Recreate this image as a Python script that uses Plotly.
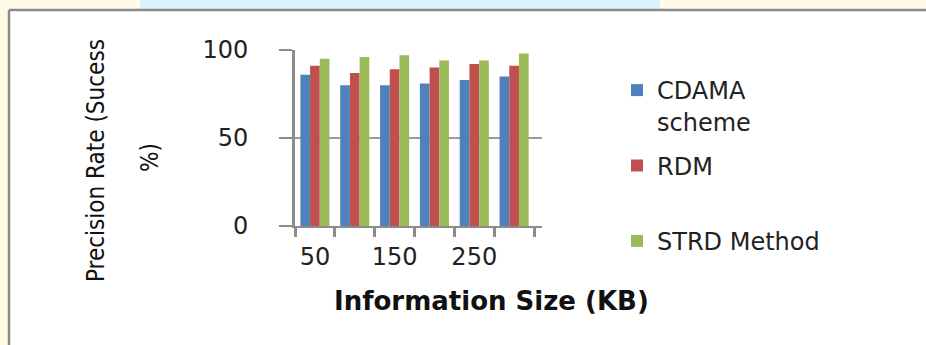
import plotly.graph_objects as go

# ---- data ----
categories = ["50", "100", "150", "200", "250", "300"]
tick_labels = ["50", "", "150", "", "250", ""]
cdama = [86, 80, 80, 81, 83, 85]
rdm = [91, 87, 89, 90, 92, 91]
strd = [95, 96, 97, 94, 94, 98]
series_names = ["CDAMA<br>scheme", "RDM<br>\u00a0", "STRD Method"]
colors = ["#4F81BD", "#C0504D", "#9BBB59"]

W, H = 926, 345
L, R, T, B = 295, 384, 50, 119
PW, PH = W - L - R, H - T - B


def px(x):
    return (x - L) / PW


def py(y):
    return (H - B - y) / PH


fig = go.Figure()
for name, vals, col in zip(series_names, [cdama, rdm, strd], colors):
    fig.add_trace(go.Bar(
        x=categories, y=vals, name=name, legendgroup=name,
        marker=dict(color=col, line=dict(width=0)),
    ))

grey = "#8C8C8C"
fig.update_layout(
    width=W, height=H,
    margin=dict(l=L, r=R, t=T, b=B, autoexpand=False),
    paper_bgcolor="white", plot_bgcolor="white",
    barmode="group", bargap=0.27, bargroupgap=0,
    font=dict(family="DejaVu Sans", color="#222222"),
    legend=dict(
        x=px(617), y=py(68), xanchor="left", yanchor="top",
        font=dict(family="DejaVu Sans", size=24, color="#222222"),
        valign="top", tracegroupgap=10, itemwidth=30, maxheight=320,
        bgcolor="rgba(0,0,0,0)",
    ),
    xaxis=dict(
        type="category", categoryorder="array", categoryarray=categories,
        tickmode="array", tickvals=categories, ticktext=tick_labels,
        tickson="boundaries", ticks="outside", ticklen=9, tickwidth=3,
        tickcolor=grey, showline=True, linecolor=grey, linewidth=2,
        showgrid=False, range=[-0.5, 5.7], ticklabelstandoff=8, tickangle=0,
        tickfont=dict(family="DejaVu Sans", size=24, color="#222222"),
    ),
    yaxis=dict(
        range=[0, 100], tickvals=[0, 50, 100], ticks="outside", ticklen=13,
        tickwidth=2, tickcolor=grey, showline=True, linecolor=grey,
        linewidth=3, showgrid=True, gridcolor="#9A9A9A", gridwidth=1.5,
        zeroline=False, ticklabelstandoff=26,
        tickfont=dict(family="DejaVu Sans", size=24, color="#222222"),
    ),
)

yfont = dict(family="Liberation Sans Narrow, DejaVu Sans Condensed, Liberation Sans", size=24, color="#111111")
ann = [
    dict(text="Precision Rate (Sucess", x=px(96), y=py(161), textangle=-90, font=yfont),
    dict(text="%)", x=px(150), y=py(158), textangle=-90, font=yfont),
    dict(text="<b>Information Size (KB)</b>", x=px(491), y=py(301),
         font=dict(family="DejaVu Sans", size=26, color="#111111")),
]
for a in ann:
    fig.add_annotation(xref="paper", yref="paper", showarrow=False,
                       xanchor="center", yanchor="middle", **a)

shapes = [
    # background strips of the original screenshot
    dict(type="rect", x0=px(0), x1=px(9), y0=py(0), y1=py(H), fillcolor="#FFFBE3", line=dict(width=0), layer="below"),
    dict(type="rect", x0=px(0), x1=px(W), y0=py(0), y1=py(9), fillcolor="#FFFBE8", line=dict(width=0), layer="below"),
    dict(type="rect", x0=px(140), x1=px(660), y0=py(0), y1=py(9), fillcolor="#D9F2FB", line=dict(width=0), layer="below"),
    # frame
    dict(type="line", x0=px(9), x1=px(W), y0=py(10), y1=py(10), line=dict(color="#8A8A8A", width=2.5)),
    dict(type="line", x0=px(9), x1=px(9), y0=py(10), y1=py(H), line=dict(color="#8A8A8A", width=2.5)),
]
for s in shapes:
    fig.add_shape(xref="paper", yref="paper", **s)

fig.write_html("out.html")
